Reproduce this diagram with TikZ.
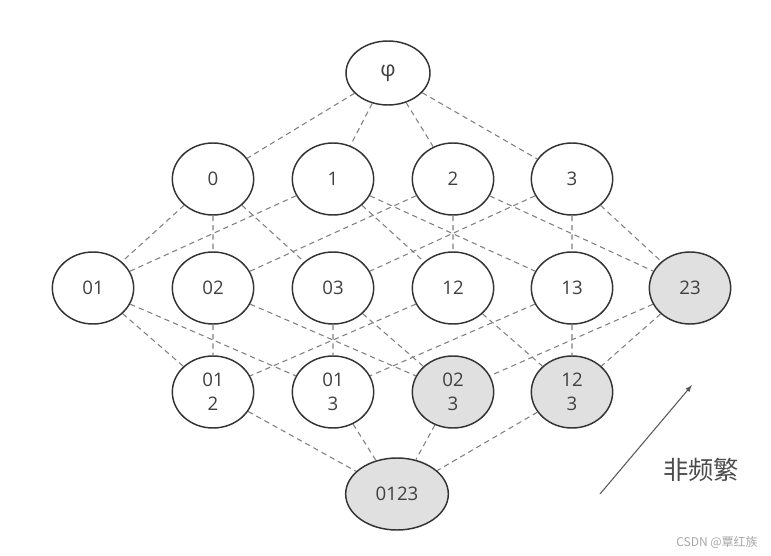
\documentclass[tikz,border=0pt]{standalone}
\usepackage{fontspec}
\setmainfont{Open Sans}
\newfontfamily\cjk{Noto Sans CJK SC}
\usepackage{tikz}
\usetikzlibrary{positioning,shapes.geometric}

\begin{document}
\begin{tikzpicture}[
  x=0.75pt, y=-0.75pt,
  font=\fontsize{14}{18}\selectfont,
    set/.style={ellipse, draw=black!80, line width=1.1pt, minimum width=61pt, minimum height=54pt, inner sep=0pt, align=center, text=black!75},
    infreq/.style={set, fill=black!12},
    link/.style={draw=black!50, line width=0.8pt, dash pattern=on 4pt off 3pt}
]
\useasboundingbox (0,0) rectangle (771,556);

% Empty set
\node[set, minimum width=63pt, minimum height=48pt, font=\fontsize{16}{18}\selectfont] (N) at (388,73) {φ};

% Single items
\node[set] (N0) at (213,179) {0};
\node[set] (N1) at (333,179) {1};
\node[set] (N2) at (453,179) {2};
\node[set] (N3) at (572,179) {3};

% Pairs
\node[set] (N01) at (93,288) {01};
\node[set] (N02) at (213,288) {02};
\node[set] (N03) at (333,288) {03};
\node[set] (N12) at (453,288) {12};
\node[set] (N13) at (572,288) {13};
\node[infreq] (N23) at (690,288) {23};

% Triples
\node[set] (N012) at (213,392) {01\\2};
\node[set] (N013) at (333,392) {01\\3};
\node[infreq] (N023) at (453,392) {02\\3};
\node[infreq] (N123) at (572,392) {12\\3};

% Full set
\node[infreq, minimum width=77pt] (N0123) at (397,494) {0123};

% Edges (empty set to single items)
\draw[link] (N) -- (N0) (N) -- (N1) (N) -- (N2) (N) -- (N3);

% Edges (single items to pairs)
\draw[link] (N0) -- (N01) (N0) -- (N02) (N0) -- (N03);
\draw[link] (N1) -- (N01) (N1) -- (N12) (N1) -- (N13);
\draw[link] (N2) -- (N02) (N2) -- (N12) (N2) -- (N23);
\draw[link] (N3) -- (N03) (N3) -- (N13) (N3) -- (N23);

% Edges (pairs to triples)
\draw[link] (N01) -- (N012) (N01) -- (N013);
\draw[link] (N02) -- (N012) (N02) -- (N023);
\draw[link] (N03) -- (N013) (N03) -- (N023);
\draw[link] (N12) -- (N012) (N12) -- (N123);
\draw[link] (N13) -- (N013) (N13) -- (N123);
\draw[link] (N23) -- (N023) (N23) -- (N123);

% Edges (triples to full set)
\draw[link] (N012) -- (N0123) (N013) -- (N0123) (N023) -- (N0123) (N123) -- (N0123);

% Direction of infrequent sets
\coordinate (tail) at (600,494);
\coordinate (head) at (692,385);
\draw[-latex, black!65, line width=0.8pt] (tail) -- (head);
\node[font=\cjk\fontsize{19}{22}\selectfont, text=black!70] (infrequent) at (701,470) {非频繁};

% Watermark
\node[font=\cjk\fontsize{9}{11}\selectfont, text=black!35] (mark) at (717,542) {CSDN @覃红族};

\end{tikzpicture}
\end{document}
